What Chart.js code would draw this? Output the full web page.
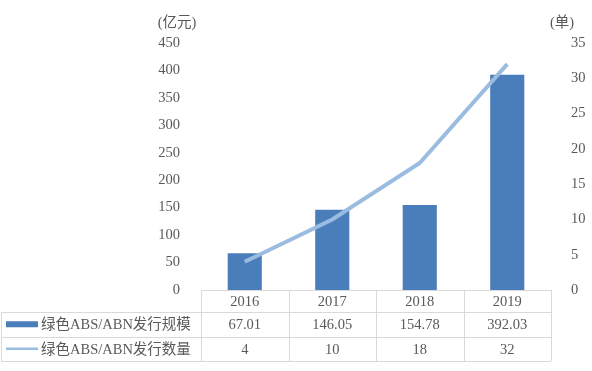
<!DOCTYPE html>
<html>
<head>
<meta charset="utf-8">
<style>
  html, body { margin: 0; padding: 0; background: #fff; }
  #wrap { width: 592px; height: 371px; }
</style>
<script src="https://cdn.jsdelivr.net/npm/chart.js@4"></script>
</head>
<body>
<div id="wrap"><canvas id="chart" width="592" height="371"></canvas></div>
<script>
const years = ['2016', '2017', '2018', '2019'];
const issueAmount = [67.01, 146.05, 154.78, 392.03];
const issueCount = [4, 10, 18, 32];
const amountLabels = ['67.01', '146.05', '154.78', '392.03'];
const seriesNames = ['绿色ABS/ABN发行规模', '绿色ABS/ABN发行数量'];

const FONT = '"Liberation Serif", "Noto Sans CJK SC", serif';
const TEXT = '#595959';
const BAR = '#4a7ebb';
const LINE = '#9bbce1';
const BORDER = '#d9d9d9';

// data table under the plot, drawn from the same arrays
const tablePlugin = {
  id: 'dataTable',
  afterDraw(chart) {
    const { ctx, chartArea, scales } = chart;
    const x = scales.x;
    const half = (x.getPixelForValue(1) - x.getPixelForValue(0)) / 2;
    const left = chartArea.left, right = chartArea.right;
    const r0 = chartArea.bottom, r1 = r0 + 22, r2 = r1 + 24.5, r3 = r2 + 24.5;
    const labelLeft = 1;

    ctx.save();
    ctx.strokeStyle = BORDER;
    ctx.lineWidth = 1;
    ctx.beginPath();
    ctx.moveTo(left, r0 + 0.5); ctx.lineTo(right, r0 + 0.5);
    [r1, r2, r3].forEach(y => {
      ctx.moveTo(labelLeft, Math.round(y) + 0.5);
      ctx.lineTo(right, Math.round(y) + 0.5);
    });
    ctx.moveTo(labelLeft + 0.5, r1); ctx.lineTo(labelLeft + 0.5, r3);
    for (let i = 0; i <= years.length; i++) {
      const px = Math.round(i < years.length ? x.getPixelForValue(i) - half : right) + 0.5;
      ctx.moveTo(px, r0); ctx.lineTo(px, r3);
    }
    ctx.stroke();

    ctx.font = '14.5px ' + FONT;
    ctx.fillStyle = TEXT;
    ctx.textAlign = 'center';
    ctx.textBaseline = 'middle';
    years.forEach((yr, i) => {
      const cx = x.getPixelForValue(i);
      ctx.fillText(yr, cx, (r0 + r1) / 2 + 1);
      ctx.fillText(amountLabels[i], cx, (r1 + r2) / 2 + 1);
      ctx.fillText(String(issueCount[i]), cx, (r2 + r3) / 2 + 1);
    });

    // legend keys
    ctx.fillStyle = BAR;
    ctx.fillRect(6, (r1 + r2) / 2 - 3, 32, 6);
    ctx.strokeStyle = LINE;
    ctx.lineWidth = 2.5;
    ctx.beginPath();
    ctx.moveTo(6, (r2 + r3) / 2); ctx.lineTo(38, (r2 + r3) / 2);
    ctx.stroke();

    ctx.fillStyle = TEXT;
    ctx.textAlign = 'left';
    ctx.fillText(seriesNames[0], 41, (r1 + r2) / 2 + 1);
    ctx.fillText(seriesNames[1], 41, (r2 + r3) / 2 + 1);

    // unit labels above the axes
    ctx.textAlign = 'center';
    ctx.fillText('(亿元)', 177, chartArea.top - 20);
    ctx.fillText('(单)', 562, chartArea.top - 20);
    ctx.restore();
  }
};

new Chart(document.getElementById('chart'), {
  type: 'bar',
  data: {
    labels: years,
    datasets: [
      {
        type: 'line',
        label: seriesNames[1],
        data: issueCount,
        yAxisID: 'y1',
        borderColor: LINE,
        borderWidth: 4,
        pointRadius: 0,
        tension: 0,
        order: 0
      },
      {
        type: 'bar',
        label: seriesNames[0],
        data: issueAmount,
        yAxisID: 'y',
        backgroundColor: BAR,
        categoryPercentage: 1,
        barPercentage: 0.39,
        order: 1
      }
    ]
  },
  options: {
    responsive: false,
    animation: false,
    layout: { padding: { top: 43, bottom: 81, left: 0, right: 0 } },
    plugins: {
      legend: { display: false },
      tooltip: { enabled: false }
    },
    scales: {
      x: {
        offset: true,
        grid: { display: false },
        border: { display: false },
        ticks: { display: false },
        afterFit: s => { s.height = 0; }
      },
      y: {
        position: 'left',
        min: 0, max: 450,
        grid: { display: false },
        border: { display: false },
        ticks: {
          stepSize: 50,
          padding: 13,
          color: TEXT,
          font: { family: FONT, size: 14.5 }
        },
        afterFit: s => { s.width = 201; }
      },
      y1: {
        position: 'right',
        min: 0, max: 35,
        grid: { display: false },
        border: { display: false },
        ticks: {
          stepSize: 5,
          padding: 12,
          color: TEXT,
          font: { family: FONT, size: 14.5 }
        },
        afterFit: s => { s.width = 41; }
      }
    }
  },
  plugins: [tablePlugin]
});
</script>
</body>
</html>
